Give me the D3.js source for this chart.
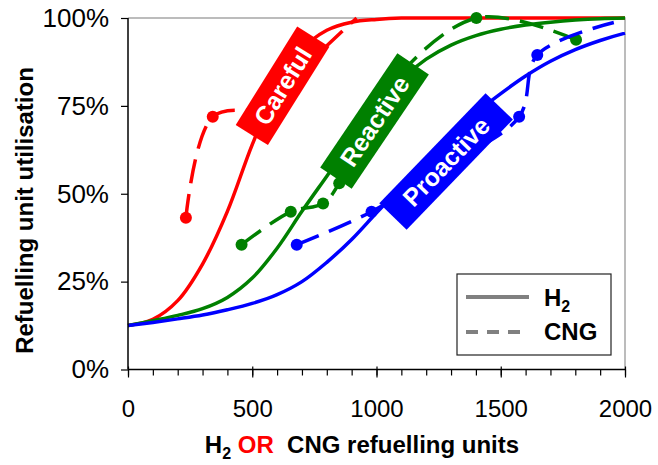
<!DOCTYPE html>
<html>
<head>
<meta charset="utf-8">
<script src="https://cdn.jsdelivr.net/npm/d3@7/dist/d3.min.js"></script>
<style>
  body { margin: 0; background: #fff; }
  svg { font-family: Arial, "Liberation Sans", sans-serif; }
</style>
</head>
<body>
<svg id="chart" width="658" height="465"></svg>
<script>
// refuelling units on the x axis, utilisation (%) on the y axis
const units = [0, 100, 200, 300, 400, 500, 600, 700, 800, 900, 1000,
               1100, 1200, 1300, 1400, 1500, 1600, 1700, 1800, 1900, 2000];

// H2 (solid) curves, one value per entry in `units`
const h2Careful   = [12.5, 14.3, 19.6, 30, 45, 64, 80, 91, 96.5, 98.8, 99.6,
                     100, 100, 100, 100, 100, 100, 100, 100, 100, 100];
const h2Reactive  = [12.5, 13.9, 15.4, 17.3, 20.5, 26, 34.5, 45, 55, 65, 74.5,
                     82.5, 88.3, 92.3, 95, 96.8, 98, 98.8, 99.4, 99.8, 100];
const h2Proactive = [12.5, 13.4, 14.4, 15.5, 17, 18.8, 21.3, 25, 30.5, 37, 44.6,
                     52, 59.5, 66.5, 73, 78.5, 83.5, 87.7, 91, 93.6, 95.7];

// CNG (dashed) series: [units, utilisation %]
const cngCareful   = [[233, 43.2], [341, 71.9], [560, 74.7], [680, 84], [920, 100]];
const cngReactive  = [[457, 35.5], [655, 44.9], [785, 47.2], [850, 53], [1000, 76],
                      [1402, 100], [1803, 93.8]];
const cngProactive = [[679, 35.5], [980, 44.9], [1280, 58], [1574, 71.9], [1647, 89.5],
                      [1955, 98.7]];
// points of the CNG series drawn without a marker
const cngUnmarked = {Careful: [920], Reactive: [], Proactive: [1955]};

const xTicks = [0, 500, 1000, 1500, 2000];
const xMinorTicks = d3.range(0, 2001, 100);
const yTicks = [0, 25, 50, 75, 100];

// scenario tags: centre in data units, angle in degrees
const tags = [
  {name: "Careful",   x: 622,  y: 80.7, angle: -58, len: 116},
  {name: "Reactive",  x: 992,  y: 70.7, angle: -56, len: 138},
  {name: "Proactive", x: 1280, y: 59.2, angle: -46, len: 153}
];

const colors = {Careful: "#ff0000", Reactive: "#008000", Proactive: "#0000ff"};

const svg = d3.select("#chart");
const plot = {left: 128, right: 625, top: 18, bottom: 369.5};

const x = d3.scaleLinear().domain([0, 2000]).range([plot.left, plot.right]);
const y = d3.scaleLinear().domain([0, 100]).range([plot.bottom, plot.top]);

// grey frame on top and right
svg.append("path")
  .attr("d", `M${plot.left},${plot.top}H${plot.right}V${plot.bottom}`)
  .attr("fill", "none")
  .attr("stroke", "#a6a6a6")
  .attr("stroke-width", 1.5);

const smoothLine = d3.line()
  .x(d => x(d[0]))
  .y(d => y(d[1]))
  .curve(d3.curveCatmullRom.alpha(0.5));

const h2 = {Careful: h2Careful, Reactive: h2Reactive, Proactive: h2Proactive};
const cng = {Careful: cngCareful, Reactive: cngReactive, Proactive: cngProactive};

const curves = svg.append("g");
Object.keys(h2).forEach(k => {
  curves.append("path")
    .datum(units.map((u, i) => [u, h2[k][i]]))
    .attr("d", smoothLine)
    .attr("fill", "none")
    .attr("stroke", colors[k])
    .attr("stroke-width", 3.5);
});

Object.keys(cng).forEach(k => {
  curves.append("path")
    .datum(cng[k])
    .attr("d", smoothLine)
    .attr("fill", "none")
    .attr("stroke", colors[k])
    .attr("stroke-width", 3.5)
    .attr("stroke-dasharray", "24,11");

  curves.selectAll(null)
    .data(cng[k].filter(d => !cngUnmarked[k].includes(d[0])))
    .join("circle")
    .attr("cx", d => x(d[0]))
    .attr("cy", d => y(d[1]))
    .attr("r", 6)
    .attr("fill", colors[k]);
});

// scenario tags on top of the curves
const tagG = svg.append("g")
  .selectAll("g")
  .data(tags)
  .join("g")
  .attr("transform", d => `translate(${x(d.x)},${y(d.y)}) rotate(${d.angle})`);

tagG.append("rect")
  .attr("x", d => -d.len / 2)
  .attr("y", -19)
  .attr("width", d => d.len)
  .attr("height", 38)
  .attr("fill", d => colors[d.name]);

tagG.append("text")
  .attr("text-anchor", "middle")
  .attr("dy", "0.36em")
  .attr("fill", "#fff")
  .attr("font-weight", "bold")
  .attr("font-size", "25px")
  .text(d => d.name);

// axes
const yAxis = svg.append("g")
  .attr("transform", `translate(${plot.left},0)`)
  .call(d3.axisLeft(y).tickValues(yTicks).tickSize(7).tickPadding(12)
    .tickFormat(d => d + "%"));

const xMinor = svg.append("g")
  .attr("transform", `translate(0,${plot.bottom})`)
  .call(d3.axisBottom(x).tickValues(xMinorTicks).tickSize(6).tickFormat(""));
xMinor.select(".domain").remove();

const xAxis = svg.append("g")
  .attr("transform", `translate(0,${plot.bottom})`)
  .call(d3.axisBottom(x).tickValues(xTicks).tickSize(8).tickPadding(22)
    .tickFormat(d3.format("d")));
xAxis.selectAll(".tick line").attr("y1", -3);

[yAxis, xAxis, xMinor].forEach(a => {
  a.selectAll(".domain").attr("stroke", "#000").attr("stroke-width", 1.5);
  a.selectAll(".tick line").attr("stroke", "#000").attr("stroke-width", 1.2);
  a.selectAll("text").attr("font-size", "24px").attr("fill", "#000")
    .attr("font-family", "Arial, 'Liberation Sans', sans-serif");
});
yAxis.selectAll("text").attr("font-size", "26px");
// keep the axis lines exactly on the plot edges
yAxis.select(".domain").attr("d", `M0,${plot.top}V${plot.bottom}`);
xAxis.select(".domain").attr("d", `M${plot.left},0H${plot.right}`);

// axis titles
svg.append("text")
  .attr("transform", `translate(33,210.5) rotate(-90)`)
  .attr("text-anchor", "middle")
  .attr("font-weight", "bold")
  .attr("font-size", "24px")
  .text("Refuelling unit utilisation");

const xt = svg.append("text")
  .attr("x", 362)
  .attr("y", 453)
  .attr("text-anchor", "middle")
  .attr("font-weight", "bold")
  .attr("font-size", "24px");
xt.append("tspan").text("H");
xt.append("tspan").attr("font-size", "16px").attr("dy", 6).text("2");
xt.append("tspan").attr("dy", -6).attr("fill", "#ff0000").text("\u00a0OR\u00a0");
xt.append("tspan").text("\u00a0CNG refuelling units");

// legend
const lg = svg.append("g").attr("transform", "translate(457,274)");
lg.append("rect")
  .attr("width", 154).attr("height", 81)
  .attr("fill", "#fff").attr("stroke", "#222").attr("stroke-width", 1.2);
lg.append("line")
  .attr("x1", 9).attr("x2", 72).attr("y1", 23).attr("y2", 23)
  .attr("stroke", "#808080").attr("stroke-width", 4);
lg.append("line")
  .attr("x1", 9).attr("x2", 64).attr("y1", 58).attr("y2", 58)
  .attr("stroke", "#808080").attr("stroke-width", 4)
  .attr("stroke-dasharray", "12,9");
const lh = lg.append("text")
  .attr("x", 87).attr("y", 32)
  .attr("font-weight", "bold").attr("font-size", "24px");
lh.append("tspan").text("H");
lh.append("tspan").attr("font-size", "16px").attr("dy", 6).text("2");
lg.append("text")
  .attr("x", 87).attr("y", 66)
  .attr("font-weight", "bold").attr("font-size", "24px")
  .text("CNG");
</script>
</body>
</html>
